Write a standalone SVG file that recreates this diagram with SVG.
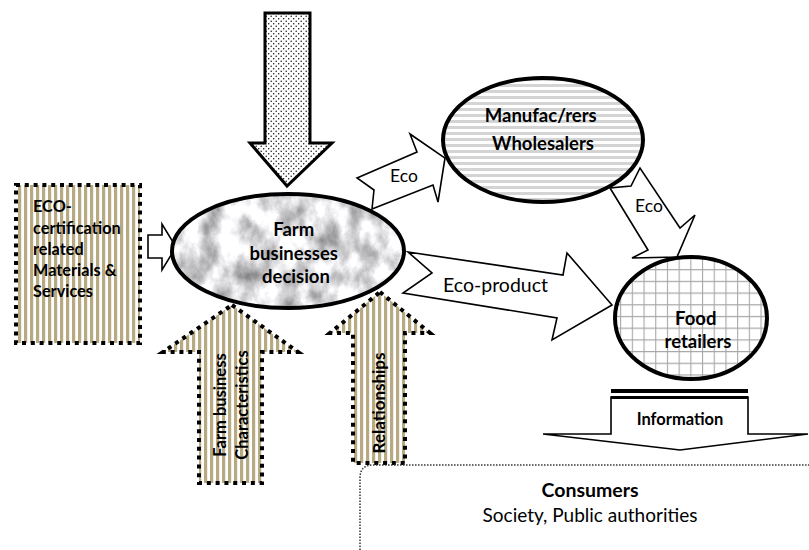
<svg xmlns="http://www.w3.org/2000/svg" width="809" height="550" viewBox="0 0 809 550">
  <style>
    .t { font-family: Lato, "Liberation Sans", sans-serif; fill: #000; }
    .b { font-weight: bold; }
    .flow { fill: #fff; stroke: #000; stroke-width: 1.6; stroke-linejoin: miter; }
    .dotted { stroke: #000; stroke-width: 4; stroke-dasharray: 4 4.8; fill: url(#tanStripes); }
    .node { stroke: #000; stroke-width: 4; }
  </style>
  <defs>
    <pattern id="tanStripes" width="6" height="6" patternUnits="userSpaceOnUse">
      <rect width="6" height="6" fill="#fff"/>
      <rect x="0" width="3.2" height="6" fill="#b7aa83"/>
    </pattern>
    <pattern id="stipple" width="5" height="5" patternUnits="userSpaceOnUse">
      <rect width="5" height="5" fill="#fff"/>
      <circle cx="1.2" cy="1.2" r="0.75" fill="#111"/>
      <circle cx="3.7" cy="3.7" r="0.75" fill="#111"/>
    </pattern>
    <pattern id="hStripes" width="6" height="6" patternUnits="userSpaceOnUse">
      <rect width="6" height="6" fill="#fff"/>
      <rect y="0" width="6" height="3" fill="#d4d4d4"/>
    </pattern>
    <pattern id="grid" width="11.7" height="11.7" patternUnits="userSpaceOnUse">
      <rect width="11.7" height="11.7" fill="#fff"/>
      <path d="M0 0.5 H11.7 M0.5 0 V11.7" stroke="#a8a8a8" stroke-width="1.2"/>
    </pattern>
    <!-- soft grey marble texture -->
    <filter id="marble" x="0" y="0" width="1" height="1" color-interpolation-filters="sRGB">
      <feTurbulence type="fractalNoise" baseFrequency="0.05 0.035" numOctaves="5" seed="7" result="n"/>
      <feColorMatrix in="n" type="matrix" values="0.9 0 0 0 0.42  0.9 0 0 0 0.42  0.9 0 0 0 0.43  0 0 0 0 1"/>
    </filter>
    <clipPath id="farmClip">
      <ellipse cx="288" cy="251" rx="116" ry="57"/>
    </clipPath>
  </defs>

  <!-- flows between actors -->
  <g id="connectors">
    <!-- external pressure from above -->
    <polygon points="265,13 310,13 310,143 332,143 287,186 250,143 265,143" fill="url(#stipple)" stroke="#000" stroke-width="3"/>
    <!-- supply into the farm -->
    <polygon class="flow" points="148,235 162,235 162,224 176,247 162,270 162,258 148,258"/>
    <!-- farm to manufacturers -->
    <polygon class="flow" points="357,178 417,152 410,134 445,158 438,202 433,185 372,209 374,190"/>
    <text class="t" x="404" y="182" font-size="17.5" text-anchor="middle">Eco</text>
    <!-- manufacturers to retailers -->
    <polygon class="flow" points="610,188 648,250 632,258 677,257 695,215 680,228 640,168 631,186"/>
    <text class="t" x="649" y="212" font-size="17.5" text-anchor="middle">Eco</text>
    <!-- farm to retailers -->
    <polygon class="flow" points="408,252 563,275 567,253 612,305 552,340 557,318 403,293 432,273"/>
    <text class="t" x="443" y="292" font-size="19.5">Eco-product</text>
    <!-- retailers to consumers -->
    <g id="information">
      <polygon class="flow" points="611,397 748,397 748,434 808,434 680,450 543,434 611,434" stroke-width="1.8"/>
      <rect x="611" y="389" width="137" height="4" fill="#000"/>
      <rect x="611" y="396" width="137" height="3" fill="#000"/>
      <text class="t b" x="680" y="425" font-size="16.5" text-anchor="middle">Information</text>
    </g>
  </g>

  <!-- input box -->
  <g id="eco-certification">
    <rect class="dotted" x="16" y="185" width="124" height="158"/>
    <text class="t b" font-size="16.3">
      <tspan x="33" y="212">ECO-</tspan>
      <tspan x="33" y="234">certification</tspan>
      <tspan x="33" y="255">related</tspan>
      <tspan x="33" y="276">Materials &amp;</tspan>
      <tspan x="33" y="297">Services</tspan>
    </text>
  </g>

  <!-- upward influences -->
  <g id="farm-characteristics">
    <polygon class="dotted" points="232,305 298,352 262,352 262,483 199,483 199,352 163,352"/>
    <text class="t b" font-size="16.5" text-anchor="middle" transform="translate(226,405) rotate(-90)">Farm business</text>
    <text class="t b" font-size="16.5" text-anchor="middle" transform="translate(248,405) rotate(-90)">Characteristics</text>
  </g>
  <g id="relationships">
    <polygon class="dotted" points="380,292 430,333 405,333 405,463 353,463 353,333 330,333"/>
    <text class="t b" font-size="17" text-anchor="middle" transform="translate(385,403) rotate(-90)">Relationships</text>
  </g>

  <!-- farm decision -->
  <g id="farm">
    <rect x="172" y="194" width="232" height="114" fill="#ddd" filter="url(#marble)" clip-path="url(#farmClip)"/>
    <ellipse class="node" cx="288" cy="251" rx="116" ry="57" fill="none"/>
    <text class="t b" font-size="18.5" text-anchor="middle">
      <tspan x="296" y="236">Farm</tspan>
      <tspan x="296" y="260">businesses</tspan>
      <tspan x="296" y="283">decision</tspan>
    </text>
  </g>

  <!-- manufacturers / wholesalers -->
  <g id="manufacturers">
    <ellipse class="node" cx="543" cy="140" rx="100" ry="62" fill="url(#hStripes)"/>
    <text class="t b" font-size="18.5" text-anchor="middle">
      <tspan x="543" y="122">Manufac/rers</tspan>
      <tspan x="543" y="150">Wholesalers</tspan>
    </text>
  </g>

  <!-- retailers -->
  <g id="retailers">
    <ellipse class="node" cx="691" cy="318" rx="76" ry="61" fill="url(#grid)"/>
    <text class="t b" font-size="18.5" text-anchor="middle">
      <tspan x="698" y="325">Food</tspan>
      <tspan x="698" y="348">retailers</tspan>
    </text>
  </g>

  <!-- consumers -->
  <g id="consumers">
    <path d="M360 550 V478 Q360 465 373 465 H809" fill="none" stroke="#333" stroke-width="1.5" stroke-dasharray="1.5 1.5"/>
    <text class="t b" x="590" y="497" font-size="19.5" text-anchor="middle">Consumers</text>
    <text class="t" x="590" y="522" font-size="19" text-anchor="middle">Society, Public authorities</text>
  </g>
</svg>
